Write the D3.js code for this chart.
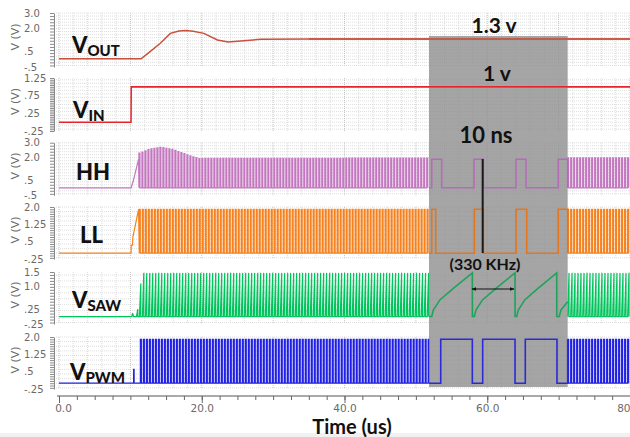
<!DOCTYPE html>
<html>
<head>
<meta charset="utf-8">
<title>Converter waveforms</title>
<script src="https://cdn.jsdelivr.net/npm/d3@7/dist/d3.min.js"></script>
<style>
  body { margin: 0; background: #fff; }
  svg { display: block; }
  .name { font-family: Lato, "Open Sans", sans-serif; font-weight: 900; fill: #111; font-size: 22px; }
  .note { font-family: Lato, "Open Sans", sans-serif; font-weight: bold; fill: #111; }
  .tl { font-family: "DejaVu Sans", sans-serif; font-size: 10px; fill: #6a6a6a; }
</style>
</head>
<body>
<div id="chart"></div>
<script>
// ---- data: time in us, values in V ----
var timeDomain = [0, 80];
var timeTicks = [0, 20, 40, 60, 80];
var timeTickLabels = ["0.0", "20.0", "40.0", "60.0", "80"];

var panelNames = [["V", "OUT"], ["V", "IN"], ["HH", ""], ["LL", ""], ["V", "SAW"], ["V", "PWM"]];
var panelDomains = [[-0.5, 3], [-0.25, 1.25], [-0.5, 3], [-0.25, 2], [-0.25, 1.5], [-0.25, 2]];
var panelTickValues = [[3, 2, 0.5, -0.5], [1.25, 0.75, 0.25, -0.25], [3, 2, 0.5, -0.5],
                       [2, 1.25, 0.5, -0.25], [1.5, 1, 0.25, -0.25], [2, 1.25, 0.5, -0.25]];
var panelTickLabels = [["3.0", "2.0", ".5", "-.5"], ["1.25", ".75", ".25", "-.25"], ["3.0", "2.0", ".5", "-.5"],
                       ["2.0", "1.25", ".5", "-.25"], ["1.5", "1.0", ".25", "-.25"], ["2.0", "1.25", ".5", "-.25"]];
var panelColors = ["#c9503d", "#e8232b", "#c477c0", "#f5821f", "#00c45c", "#2020e4"];
var zoomColors = ["#b56cb8", "#e5761c", "#1fa35a", "#2a2ad8"]; // HH, LL, VSAW, VPWM inside the gray box

// output voltage and input step
var voutT = [0, 11.5, 12.5, 14.2, 15.6, 16.8, 17.8, 18.8, 20.3, 22.2, 23.7, 25.9, 28.3, 35, 80];
var voutV = [0.03, 0.03, 0.4, 1.04, 1.68, 1.83, 1.86, 1.82, 1.68, 1.25, 1.12, 1.2, 1.3, 1.32, 1.32];
var vinT = [0, 10.09, 10.12, 80];
var vinV = [0, 0, 1.0, 1.0];

// start-up before switching begins
var hhLeadT = [0, 10.1, 10.4, 11.15], hhLeadV = [0, 0, 0.45, 1.9];
var llLeadT = [0, 10.1, 10.12, 10.3, 10.35, 11.15], llLeadV = [0, 0, 0.35, 0.35, 0.7, 1.9];
var sawLeadT = [0, 10.2, 10.3, 10.45, 10.85], sawLeadV = [0, 0, 0.12, 0, 0];
var pwmLeadT = [0, 10.45, 10.46, 10.52, 10.53, 11.4], pwmLeadV = [0, 0, 0.6, 0.6, 0, 0];

// tops of the pulses in the dense part
var hhTopT = [11.2, 12.5, 14.2, 15.9, 17, 18.5, 19.6, 80], hhTopV = [2.3, 2.55, 2.7, 2.55, 2.35, 2.1, 1.95, 2.0];
var llTopT = [11.2, 80], llTopV = [1.9, 1.9];
var sawTopT = [10.85, 11.1, 11.5, 80], sawTopV = [0.25, 0.85, 1.47, 1.47];
var pwmTopT = [11.4, 80], pwmTopV = [1.9, 1.9];
var burstStart = [11.2, 11.25, 10.85, 11.4]; // HH, LL, VSAW, VPWM
var pulseSpacing = 0.42;                     // apparent pulse spacing in the dense part
var zoomWindow = [51.84, 71.27];             // magnified gray window

// magnified window: switching edges and the saw ramps
var hhEdges = [52.22, 53.62, 58.14, 59.45, 64.03, 65.43, 69.95, 71.27];
var llEdges = [52.22, 52.78, 58.19, 59.45, 64.03, 65.53, 69.95, 71.27];
var pwmEdges = [53.48, 57.91, 59.36, 63.89, 65.33, 69.77, 71.27];
var sawZoomT = [51.84, 52.22, 52.45, 53.36, 55.29, 57.91, 57.92, 58.19, 58.42, 59.33, 61.27, 63.89,
                63.9, 64.13, 64.35, 65.25, 67.15, 69.73, 69.74, 70.09, 70.32, 71.27];
var sawZoomV = [0, 0, 0.22, 0.56, 0.96, 1.47, 0, 0, 0.22, 0.56, 0.96, 1.47,
                0, 0, 0.22, 0.56, 0.96, 1.47, 0, 0, 0.22, 0.5];
var highLevel = 1.9;

var deadTimeMark = 59.36;        // "10 ns" marker
var periodArrow = [57.86, 63.75]; // "(330 KHz)" arrow

// ---- layout ----
var W = 630, H = 437;
var panelPx = [[13, 67], [78, 131], [142.7, 195.3], [207, 259], [272, 324], [337, 389]];

var svg = d3.select("#chart").append("svg").attr("width", W).attr("height", H);
var x = d3.scaleLinear().domain(timeDomain).range([59, 630]);
var ys = panelDomains.map(function (d, i) {
    return d3.scaleLinear().domain(d).range([panelPx[i][1], panelPx[i][0]]);
});

function zip(t, v) { return t.map(function (d, i) { return [d, v[i]]; }); }

// steps that toggle between 0 and hi at each edge
function stepPts(t0, hi, edges) {
    var pts = [[t0, 0]], v = 0;
    edges.forEach(function (e) { pts.push([e, v]); v = v === 0 ? hi : 0; pts.push([e, v]); });
    return pts;
}

// dense switching part
function burstPts(t0, t1, topT, topV, saw) {
    var top = d3.scaleLinear().domain(topT).range(topV).clamp(true);
    var w = (saw ? 0.45 : 0.33) * pulseSpacing, pts = [];
    d3.range(t0, t1, pulseSpacing).forEach(function (t) {
        var v = top(t);
        if (saw) pts.push([t, 0], [t + w, v], [t + w, 0]);
        else pts.push([t, 0], [t, v], [t + w, v], [t + w, 0]);
    });
    return pts;
}

var gridL = svg.append("g"), axisL = svg.append("g"), traceL = svg.append("g"),
    grayL = svg.append("g"), zoomL = svg.append("g"), noteL = svg.append("g");

svg.append("rect").attr("x", 0).attr("y", 433).attr("width", W).attr("height", 4).attr("fill", "#f1f1f1");

// grid, y axes and names
ys.forEach(function (y, i) {
    var top = panelPx[i][0], bot = panelPx[i][1];
    var g = gridL.append("g");
    g.selectAll(".h").data(y.ticks(12)).enter().append("line")
        .attr("x1", 56).attr("x2", W).attr("y1", d => y(d)).attr("y2", d => y(d))
        .attr("stroke", "#dedede").attr("stroke-dasharray", "1,1");
    g.selectAll(".v").data(d3.range(0, 81, 2)).enter().append("line")
        .attr("x1", d => x(d)).attr("x2", d => x(d)).attr("y1", top).attr("y2", bot)
        .attr("stroke", d => d % 10 === 0 ? "#c4c4c4" : "#dcdcdc").attr("stroke-dasharray", "1,1");

    var ax = axisL.append("g").attr("transform", "translate(54,0)")
        .call(d3.axisLeft(y).ticks(22).tickSize(4).tickSizeOuter(0).tickFormat(""));
    ax.select(".domain").attr("stroke", "#888");
    ax.selectAll(".tick line").attr("stroke", "#8a8a8a");

    axisL.selectAll(null).data(panelTickValues[i]).enter().append("text")
        .attr("class", "tl").attr("x", 24).attr("y", d => y(d)).attr("dy", "0.35em")
        .text((d, k) => panelTickLabels[i][k]);

    axisL.append("text").attr("class", "tl").style("font-size", "11px")
        .attr("transform", "translate(19," + ((top + bot) / 2 - 3) + ") rotate(-90)")
        .attr("text-anchor", "middle").text("V (V)");
});

// x axis
var xMinor = svg.append("g").attr("transform", "translate(0,396)")
    .call(d3.axisBottom(x).tickValues(d3.range(0, 80.1, 2.5)).tickSize(4).tickSizeOuter(0).tickFormat(""));
xMinor.select(".domain").attr("stroke", "#555").attr("d", "M57,0H" + W);
xMinor.selectAll(".tick line").attr("stroke", "#666");
var xMajor = svg.append("g").attr("transform", "translate(0,396)")
    .call(d3.axisBottom(x).tickValues(timeTicks).tickSize(7).tickFormat((d, i) => timeTickLabels[i]));
xMajor.select(".domain").remove();
xMajor.selectAll(".tick line").attr("stroke", "#666");
xMajor.selectAll(".tick text").attr("class", "tl").attr("font-family", null).attr("font-size", null)
    .attr("y", 7).attr("dy", "0.85em").style("font-size", "10.5px");
xMajor.select(".tick text").attr("dx", 4);
xMajor.selectAll(".tick text").filter(d => d === 80).attr("text-anchor", "end").attr("dx", 0);

svg.append("text").attr("class", "note").style("font-size", "20px")
    .attr("x", 352).attr("y", 434).attr("text-anchor", "middle").text("Time (us)");

// traces
function draw(layer, i, pts, color, w) {
    var line = d3.line().x(d => x(d[0])).y(d => ys[i](d[1]));
    layer.append("path").attr("d", line(pts)).attr("fill", "none")
        .attr("stroke", color).attr("stroke-width", w).attr("stroke-linejoin", "miter");
}

draw(traceL, 0, zip(voutT, voutV), panelColors[0], 1.5);
draw(traceL, 1, zip(vinT, vinV), panelColors[1], 1.5);

var leads = [zip(hhLeadT, hhLeadV), zip(llLeadT, llLeadV), zip(sawLeadT, sawLeadV), zip(pwmLeadT, pwmLeadV)];
var tops = [[hhTopT, hhTopV], [llTopT, llTopV], [sawTopT, sawTopV], [pwmTopT, pwmTopV]];
leads.forEach(function (lead, k) {
    var i = k + 2, saw = k === 2;
    var b1 = burstPts(burstStart[k], zoomWindow[0], tops[k][0], tops[k][1], saw);
    var b2 = burstPts(zoomWindow[1], 80, tops[k][0], tops[k][1], saw);
    draw(traceL, i, lead.concat(b1), panelColors[i], 1.2);
    draw(traceL, i, b2, panelColors[i], 1.2);
});

// magnified window
grayL.append("rect")
    .attr("x", x(zoomWindow[0])).attr("y", 36)
    .attr("width", x(zoomWindow[1]) - x(zoomWindow[0])).attr("height", 351)
    .attr("fill", "#8f8f8f").attr("opacity", 0.8);

draw(zoomL, 0, zip(voutT, voutV).filter(d => d[0] >= 35), panelColors[0], 1.5);
draw(zoomL, 1, zip(vinT, vinV).filter(d => d[0] >= 10.12), panelColors[1], 1.5);
draw(zoomL, 2, stepPts(zoomWindow[0], highLevel, hhEdges), zoomColors[0], 1.6);
draw(zoomL, 3, stepPts(zoomWindow[0], highLevel, llEdges), zoomColors[1], 1.6);
draw(zoomL, 4, zip(sawZoomT, sawZoomV), zoomColors[2], 1.6);
draw(zoomL, 5, stepPts(zoomWindow[0], highLevel, pwmEdges), zoomColors[3], 1.6);

// annotations
var defs = svg.append("defs");
defs.append("marker").attr("id", "ah").attr("viewBox", "0 0 10 10").attr("refX", 9).attr("refY", 5)
    .attr("markerWidth", 5).attr("markerHeight", 5).attr("orient", "auto-start-reverse")
    .append("path").attr("d", "M0,1L10,5L0,9z").attr("fill", "#111");

noteL.append("line").attr("x1", x(deadTimeMark)).attr("x2", x(deadTimeMark))
    .attr("y1", 159).attr("y2", 253).attr("stroke", "#1a1a1a").attr("stroke-width", 2);
noteL.append("line").attr("x1", x(periodArrow[0])).attr("x2", x(periodArrow[1]))
    .attr("y1", 289).attr("y2", 289).attr("stroke", "#111").attr("stroke-width", 1)
    .attr("marker-start", "url(#ah)").attr("marker-end", "url(#ah)");

noteL.append("text").attr("class", "note").style("font-size", "21px")
    .attr("x", 494).attr("y", 33).attr("text-anchor", "middle").text("1.3 v");
noteL.append("text").attr("class", "note").style("font-size", "21px")
    .attr("x", 497).attr("y", 81).attr("text-anchor", "middle").text("1 v");
noteL.append("text").attr("class", "note").style("font-size", "22px")
    .attr("x", 486).attr("y", 143).attr("text-anchor", "middle").text("10 ns");
noteL.append("text").attr("class", "note").style("font-size", "16px")
    .attr("x", 485).attr("y", 270).attr("text-anchor", "middle").text("(330 KHz)");

// channel names
var namePos = [[72, 53], [73, 118], [76, 180], [80, 243], [72, 308], [70, 380]];
panelNames.forEach(function (n, i) {
    var t = noteL.append("text").attr("class", "name").attr("x", namePos[i][0]).attr("y", namePos[i][1]);
    t.append("tspan").text(n[0]);
    if (n[1]) t.append("tspan").attr("dy", 3).style("font-size", "15px").text(n[1]);
});
</script>
</body>
</html>
